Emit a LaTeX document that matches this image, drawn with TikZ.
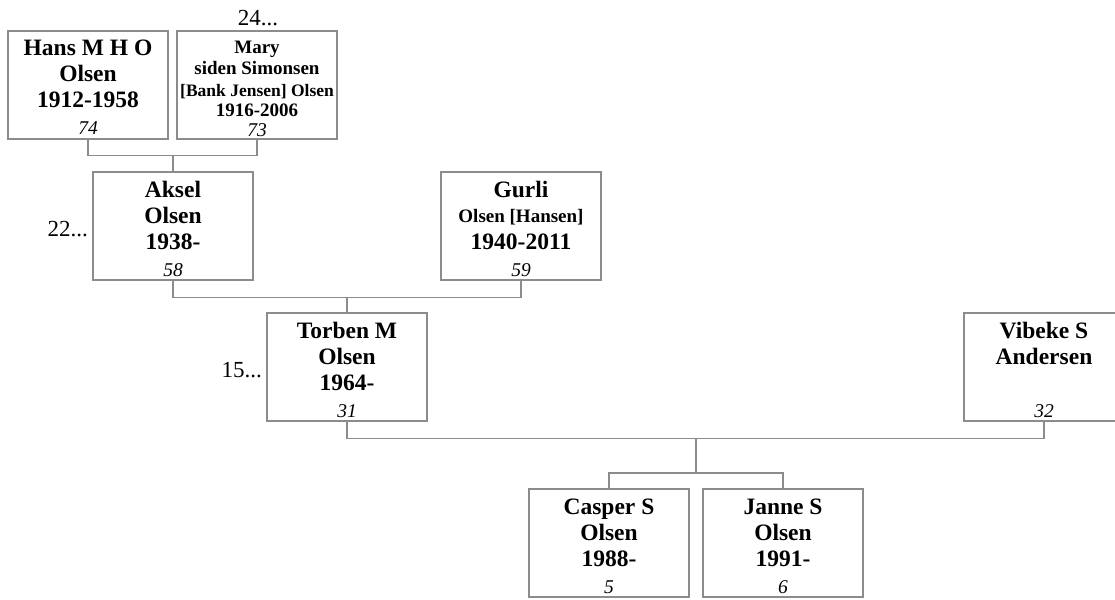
\documentclass[tikz,border=0pt]{standalone}
\usepackage{fontspec}
\setmainfont{Liberation Serif}
\definecolor{lc}{RGB}{140,140,140}
\begin{document}
\begin{tikzpicture}[x=1pt,y=-1pt,
  box/.style={draw=lc, line width=1.3pt, rectangle, minimum width=160pt, minimum height=108pt, inner sep=0pt},
  conn/.style={draw=lc, line width=1.3pt},
  nm/.style={anchor=base, inner sep=0pt, font=\fontsize{23.5}{26}\selectfont\bfseries},
  sm/.style={anchor=base, inner sep=0pt, font=\fontsize{19}{21}\selectfont\bfseries},
  xs/.style={anchor=base, inner sep=0pt, font=\fontsize{17.5}{20}\selectfont\bfseries},
  num/.style={anchor=base, inner sep=0pt, font=\fontsize{19.5}{21}\selectfont\itshape},
  side/.style={anchor=base east, inner sep=0pt, font=\fontsize{23}{25}\selectfont}]
\useasboundingbox (0,0) rectangle (1115,599);
% boxes
\node[box] (hans) at (88,85) {};
\node[box] (mary) at (257,85) {};
\node[box] (aksel) at (173,226) {};
\node[box] (gurli) at (521,226) {};
\node[box] (torben) at (347,367) {};
\node[box] (vibeke) at (1044,367) {};
\node[box] (casper) at (609,543) {};
\node[box] (janne) at (783,543) {};
% texts
\node[nm] (h1) at (88,56) {Hans M H O};
\node[nm] (h2) at (88,82) {Olsen};
\node[nm] (h3) at (88,108) {1912-1958};
\node[num] (h4) at (88,135) {74};
\node[sm] (m1) at (257,54) {Mary};
\node[sm] (m2) at (257,75) {siden Simonsen};
\node[xs] (m3) at (257,96) {[Bank Jensen] Olsen};
\node[sm] (m4) at (257,117) {1916-2006};
\node[num] (m5) at (257,136) {73};
\node[nm] (a1) at (173,197) {Aksel};
\node[nm] (a2) at (173,223) {Olsen};
\node[nm] (a3) at (173,249) {1938-};
\node[num] (a4) at (173,276) {58};
\node[nm] (g1) at (521,197) {Gurli};
\node[sm] (g2) at (521,222) {Olsen [Hansen]};
\node[nm] (g3) at (521,249) {1940-2011};
\node[num] (g4) at (521,276) {59};
\node[nm] (t1) at (347,338) {Torben M};
\node[nm] (t2) at (347,364) {Olsen};
\node[nm] (t3) at (347,390) {1964-};
\node[num] (t4) at (347,417) {31};
\node[nm] (v1) at (1044,338) {Vibeke S};
\node[nm] (v2) at (1044,364) {Andersen};
\node[num] (v3) at (1044,417) {32};
\node[nm] (c1) at (609,514) {Casper S};
\node[nm] (c2) at (609,540) {Olsen};
\node[nm] (c3) at (609,566) {1988-};
\node[num] (c4) at (609,593) {5};
\node[nm] (j1) at (783,514) {Janne S};
\node[nm] (j2) at (783,540) {Olsen};
\node[nm] (j3) at (783,566) {1991-};
\node[num] (j4) at (783,593) {6};
% side labels
\node[anchor=base, inner sep=0pt, font=\fontsize{23}{25}\selectfont] (l24) at (258,26) {24...};
\node[side] (l22) at (88,236) {22...};
\node[side] (l15) at (262,377) {15...};
% connectors
\draw[conn] (hans.south) -- ++(0,16) coordinate (b1) -| (mary.south);
\draw[conn] (aksel.north) -- (aksel.north |- b1);
\draw[conn] (aksel.south) -- ++(0,17) coordinate (b2) -| (gurli.south);
\draw[conn] (torben.north) -- (torben.north |- b2);
\draw[conn] (torben.south) -- ++(0,17) coordinate (b3) -| (vibeke.south);
\coordinate (b4) at (696,473);
\draw[conn] (b4 |- b3) -- (b4);
\draw[conn] (casper.north) |- (b4) -| (janne.north);
\end{tikzpicture}
\end{document}
